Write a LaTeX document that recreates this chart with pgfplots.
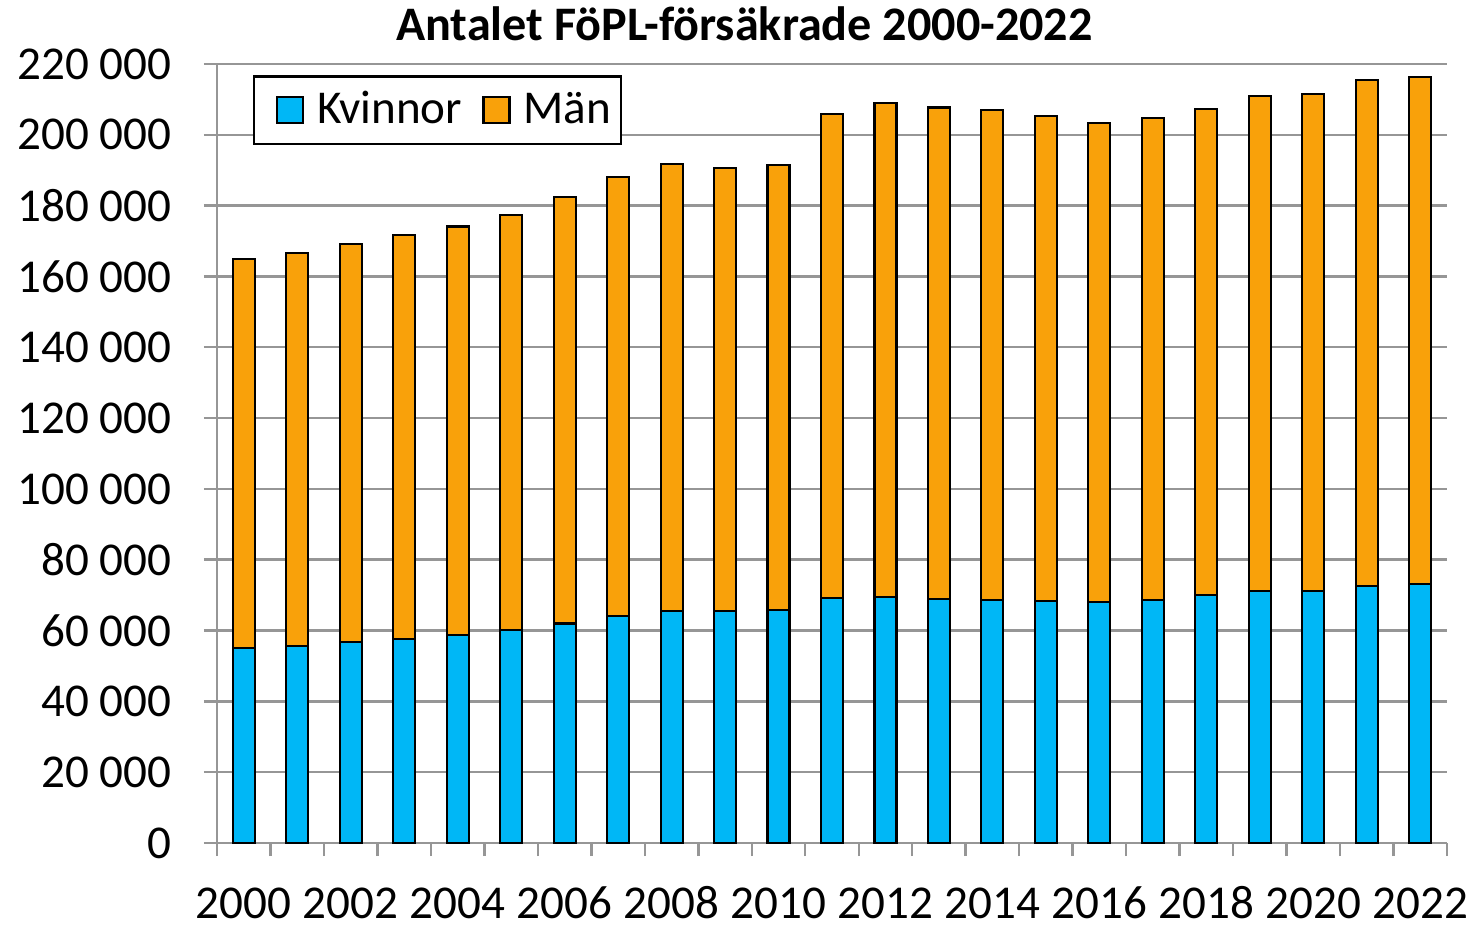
\documentclass[border=0pt]{standalone}
\usepackage{pgfplots}
\pgfplotsset{compat=1.18}
\usepackage{fontspec}
\setmainfont{Carlito}

\definecolor{kvblue}{RGB}{0,183,246}
\definecolor{manorange}{RGB}{249,161,10}
\definecolor{gridgray}{RGB}{150,150,150}

% year index, Kvinnor, Män
\pgfplotstableread{
x  kv    man
0  55.0  110.0
1  55.6  111.0
2  56.8  112.3
3  57.5  114.1
4  58.7  115.4
5  60.1  117.3
6  62.0  120.4
7  64.0  124.1
8  65.5  126.3
9  65.4  125.3
10 65.8  125.6
11 69.1  136.7
12 69.4  139.7
13 69.0  138.7
14 68.6  138.4
15 68.3  136.9
16 68.0  135.4
17 68.6  136.2
18 70.1  137.2
19 71.2  139.7
20 71.2  140.2
21 72.6  143.0
22 73.1  143.3
}\fopl

\begin{document}
\begin{tikzpicture}
\useasboundingbox (-2.17,-0.84) rectangle (12.59,8.43);
\begin{axis}[
  at={(0,0)}, anchor=south west,
  scale only axis,
  width=12.3cm, height=7.79cm,
  ybar stacked, bar width=0.22cm,
  xmin=-0.5, xmax=22.5,
  ymin=0, ymax=220,
  axis lines=left,
  axis line style={draw=gridgray, line width=0.7pt, -},
  font=\fontsize{13.4}{16}\selectfont,
  ytick={0,20,...,220},
  yticklabels={0,20 000,40 000,60 000,80 000,100 000,120 000,140 000,160 000,180 000,200 000,220 000},
  ymajorgrids,
  grid style={draw=gridgray, line width=0.7pt},
  ytick style={draw=gridgray, line width=0.7pt},
  yticklabel style={xshift=-0.2cm},
  xtick={-0.5,0.5,...,22.5},
  xticklabels={},
  xtick style={draw=gridgray, line width=0.7pt},
  tick align=outside,
  major tick length=0.13cm,
  extra x ticks={0,2,...,22},
  extra x tick labels={2000,2002,2004,2006,2008,2010,2012,2014,2016,2018,2020,2022},
  extra x tick style={major tick length=0pt, grid=none,
    xticklabel style={anchor=north, text height=8.7pt, text depth=0pt, yshift=-0.33cm}},
  legend columns=2,
  legend style={at={(0.029,0.986)}, anchor=north west,
    draw=black, line width=0.8pt,
    font=\fontsize{13.4}{16}\selectfont,
    /tikz/every even column/.append style={column sep=-0.06cm},
    inner xsep=0.03cm, inner ysep=0.08cm},
  legend image code/.code={
    \path (0cm,0cm);
    \draw[#1, line width=0.7pt] (0.19cm,-0.13cm) rectangle (0.45cm,0.13cm);
    \path (0.51cm,0cm);
  },
]
\addplot[fill=kvblue, draw=black, line width=0.6pt] table[x=x, y=kv] {\fopl};
\addplot[fill=manorange, draw=black, line width=0.6pt] table[x=x, y=man] {\fopl};
\legend{Kvinnor, Män}
\end{axis}
\node[anchor=base, font=\fontsize{13.7}{16}\selectfont\bfseries] at (5.275,8.02) {Antalet FöPL-försäkrade 2000-2022};
\end{tikzpicture}
\end{document}
